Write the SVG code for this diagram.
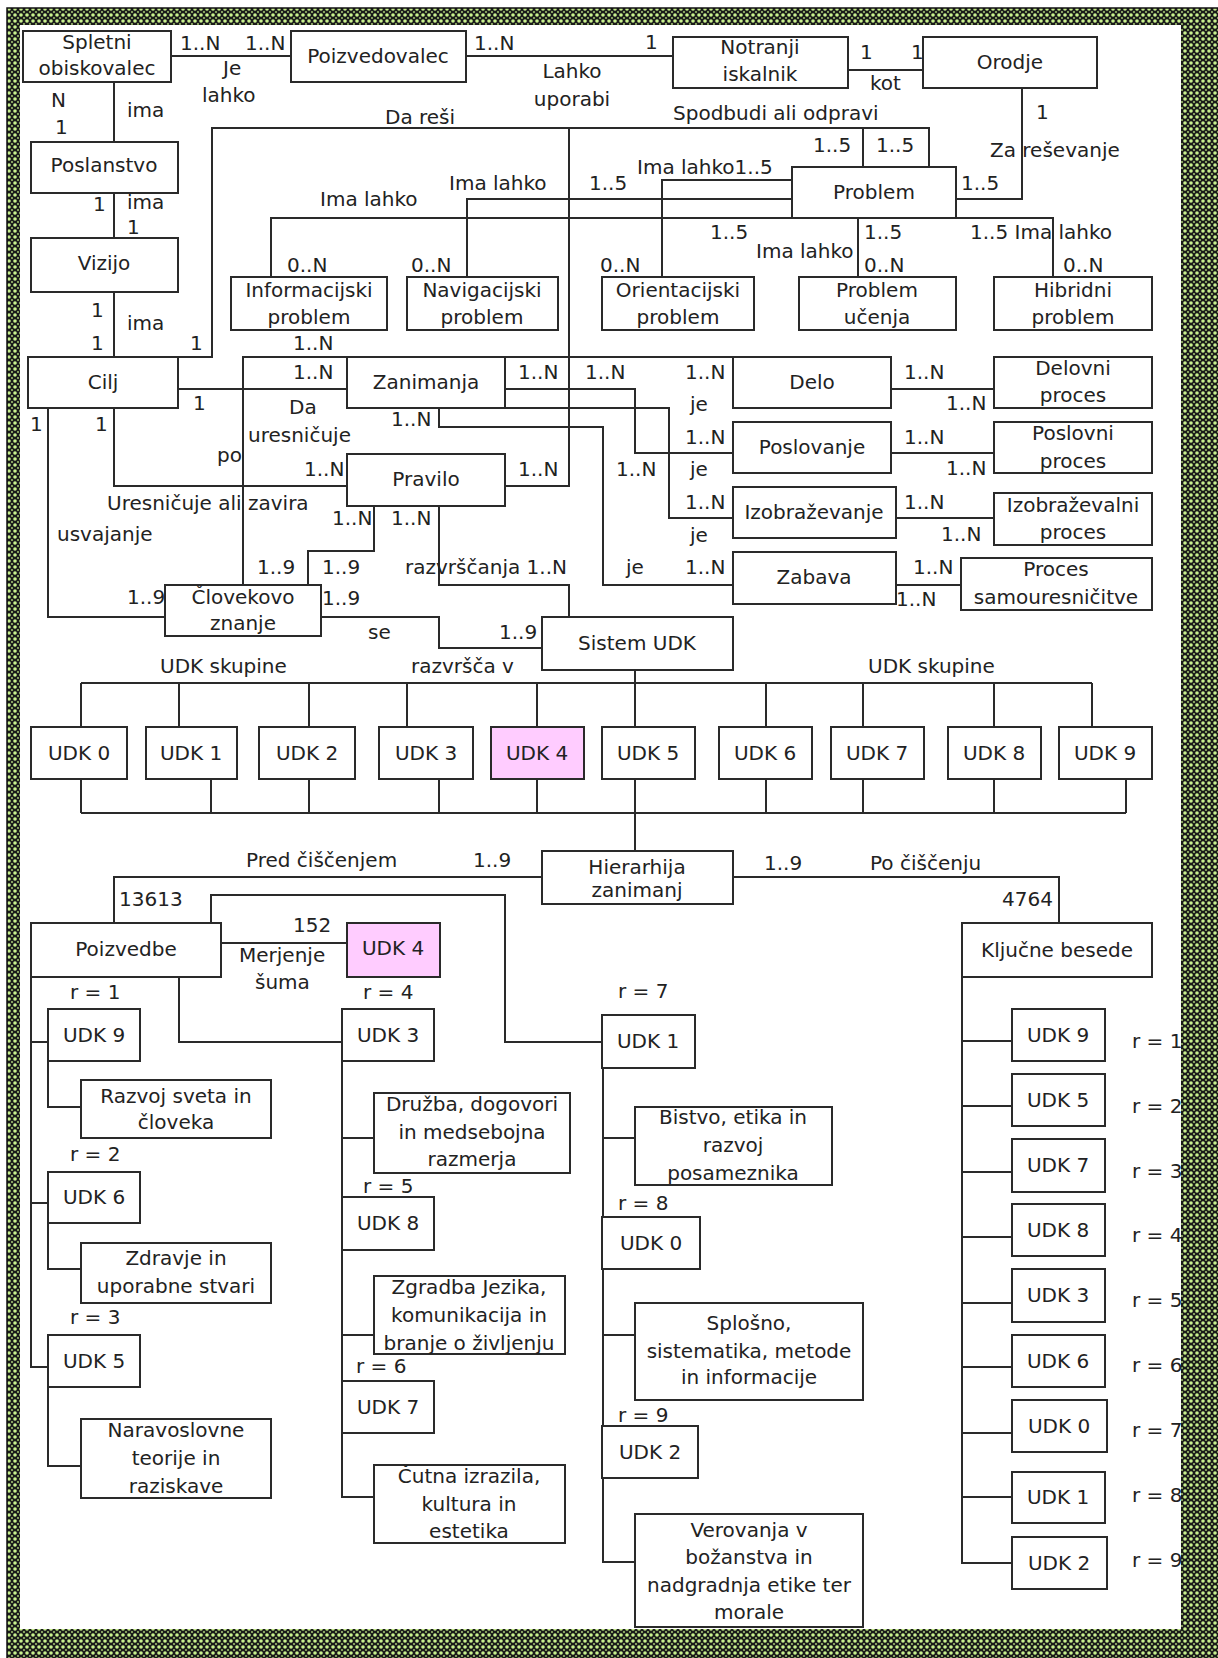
<svg xmlns="http://www.w3.org/2000/svg" width="1218" height="1658" viewBox="0 0 1218 1658">
<defs>
<pattern id="tex" width="6" height="6" patternUnits="userSpaceOnUse">
<rect width="6" height="6" fill="#1a1a1a"/>
<circle cx="3" cy="3" r="1.8" fill="#c8f08e"/>
<circle cx="0" cy="0" r="0.9" fill="#b8e07e"/>
<circle cx="6" cy="6" r="0.9" fill="#b8e07e"/>
<circle cx="6" cy="0" r="0.9" fill="#b8e07e"/>
<circle cx="0" cy="6" r="0.9" fill="#b8e07e"/>
</pattern>
<style>
.box{fill:#fff;stroke:#2a2a2a;stroke-width:2}
.pink{fill:#ffccff}
.ln{fill:none;stroke:#2a2a2a;stroke-width:2}
text{font-family:"DejaVu Sans","Liberation Sans",sans-serif;font-size:20px;fill:#222}
.c{text-anchor:middle}
</style>
</defs>
<rect width="1218" height="1658" fill="#fff"/>
<path d="M7,8 H1218 V1658 H7 Z M20,25 V1629 H1181 V25 Z" fill="url(#tex)" fill-rule="evenodd"/>
<path d="M7,1658 V8 H1218" fill="none" stroke="#111" stroke-width="1.5"/>

<g id="connectors" class="ln">
<path d="M171,56 H291"/>
<path d="M466,56 H673"/>
<path d="M848,70 H923"/>
<path d="M114,82 V142"/>
<path d="M114,193 V238"/>
<path d="M114,292 V357"/>
<path d="M178,357 H212 V128 H929 V167"/>
<path d="M1022,88 V199 H956"/>
<path d="M505,486 H569 V128 H863 V167"/>
<path d="M792,218 H271 V277"/>
<path d="M792,199 H467 V277"/>
<path d="M792,180 H662 V277"/>
<path d="M858,218 V277"/>
<path d="M956,218 H1053 V277"/>
<path d="M178,389 H347"/>
<path d="M243,585 V357 H347"/>
<path d="M114,408 V486 H347"/>
<path d="M48,408 V617 H165"/>
<path d="M374,506 V551 H308 V585"/>
<path d="M439,506 V585 H569 V617"/>
<path d="M321,617 H439 V648 H542"/>
<path d="M505,357 H733"/>
<path d="M505,389 H635 V453 H733"/>
<path d="M505,408 H669 V518 H733"/>
<path d="M439,408 V427 H603 V585 H733"/>
<path d="M891,389 H994"/>
<path d="M891,453 H994"/>
<path d="M896,518 H994"/>
<path d="M896,585 H961"/>
<path d="M635,670 V727"/>
<path d="M81,683 H1092"/>
<path d="M81,683 V727 M179,683 V727 M309,683 V727 M407,683 V727 M537,683 V727 M766,683 V727 M863,683 V727 M994,683 V727 M1092,683 V727"/>
<path d="M81,813 H1126"/>
<path d="M81,779 V813 M211,779 V813 M309,779 V813 M439,779 V813 M537,779 V813 M766,779 V813 M863,779 V813 M994,779 V813 M1126,779 V813"/>
<path d="M635,779 V851"/>
<path d="M542,877 H114 V923"/>
<path d="M733,877 H1059 V923"/>
<path d="M221,943 H347"/>
<path d="M211,923 V895 H505 V1042 H603"/>
<path d="M179,977 V1042 H342"/>
<path d="M31,977 V1367 H48 M31,1042 H48 M31,1203 H48"/>
<path d="M48,1061 V1107 H81"/>
<path d="M48,1223 V1269 H81"/>
<path d="M48,1387 V1466 H81"/>
<path d="M342,1061 V1497 H374 M342,1138 H374 M342,1335 H374"/>
<path d="M603,1068 V1562 H635 M603,1138 H635 M603,1335 H635"/>
<path d="M962,977 V1563 H1012 M962,1041 H1012 M962,1106 H1012 M962,1172 H1012 M962,1237 H1012 M962,1303 H1012 M962,1367 H1012 M962,1433 H1012 M962,1497 H1012"/>
</g>

<g id="n-spletni"><rect class="box" x="23" y="31" width="148" height="51"/><text class="c" x="97" y="49">Spletni</text><text class="c" x="97" y="75">obiskovalec</text></g>
<g id="n-poizvedovalec"><rect class="box" x="291" y="31" width="175" height="51"/><text class="c" x="378" y="63">Poizvedovalec</text></g>
<g id="n-notranji"><rect class="box" x="673" y="37" width="175" height="51"/><text class="c" x="760" y="54">Notranji</text><text class="c" x="760" y="81">iskalnik</text></g>
<g id="n-orodje"><rect class="box" x="923" y="37" width="174" height="51"/><text class="c" x="1010" y="69">Orodje</text></g>
<g id="n-poslanstvo"><rect class="box" x="31" y="142" width="147" height="51"/><text class="c" x="104" y="172">Poslanstvo</text></g>
<g id="n-vizijo"><rect class="box" x="31" y="238" width="147" height="54"/><text class="c" x="104" y="270">Vizijo</text></g>
<g id="n-problem"><rect class="box" x="792" y="167" width="164" height="51"/><text class="c" x="874" y="199">Problem</text></g>
<g id="n-informacijski"><rect class="box" x="231" y="277" width="156" height="53"/><text class="c" x="309" y="297">Informacijski</text><text class="c" x="309" y="324">problem</text></g>
<g id="n-navigacijski"><rect class="box" x="407" y="277" width="151" height="53"/><text class="c" x="482" y="297">Navigacijski</text><text class="c" x="482" y="324">problem</text></g>
<g id="n-orientacijski"><rect class="box" x="602" y="277" width="152" height="53"/><text class="c" x="678" y="297">Orientacijski</text><text class="c" x="678" y="324">problem</text></g>
<g id="n-ucenja"><rect class="box" x="799" y="277" width="157" height="53"/><text class="c" x="877" y="297">Problem</text><text class="c" x="877" y="324">učenja</text></g>
<g id="n-hibridni"><rect class="box" x="994" y="277" width="158" height="53"/><text class="c" x="1073" y="297">Hibridni</text><text class="c" x="1073" y="324">problem</text></g>
<g id="n-cilj"><rect class="box" x="28" y="357" width="150" height="51"/><text class="c" x="103" y="389">Cilj</text></g>
<g id="n-zanimanja"><rect class="box" x="347" y="357" width="158" height="51"/><text class="c" x="426" y="389">Zanimanja</text></g>
<g id="n-pravilo"><rect class="box" x="347" y="454" width="158" height="52"/><text class="c" x="426" y="486">Pravilo</text></g>
<g id="n-clovekovo"><rect class="box" x="165" y="585" width="156" height="51"/><text class="c" x="243" y="604">Človekovo</text><text class="c" x="243" y="630">znanje</text></g>
<g id="n-delo"><rect class="box" x="733" y="357" width="158" height="51"/><text class="c" x="812" y="389">Delo</text></g>
<g id="n-poslovanje"><rect class="box" x="733" y="422" width="158" height="51"/><text class="c" x="812" y="454">Poslovanje</text></g>
<g id="n-izobrazevanje"><rect class="box" x="733" y="487" width="163" height="51"/><text class="c" x="814" y="519">Izobraževanje</text></g>
<g id="n-zabava"><rect class="box" x="733" y="552" width="163" height="52"/><text class="c" x="814" y="584">Zabava</text></g>
<g id="n-delovni"><rect class="box" x="994" y="357" width="158" height="51"/><text class="c" x="1073" y="375">Delovni</text><text class="c" x="1073" y="402">proces</text></g>
<g id="n-poslovni"><rect class="box" x="994" y="422" width="158" height="51"/><text class="c" x="1073" y="440">Poslovni</text><text class="c" x="1073" y="468">proces</text></g>
<g id="n-izobrazevalni"><rect class="box" x="994" y="493" width="158" height="52"/><text class="c" x="1073" y="512">Izobraževalni</text><text class="c" x="1073" y="539">proces</text></g>
<g id="n-samouresnicitve"><rect class="box" x="961" y="558" width="191" height="52"/><text class="c" x="1056" y="576">Proces</text><text class="c" x="1056" y="604">samouresničitve</text></g>
<g id="n-sistem"><rect class="box" x="542" y="617" width="191" height="53"/><text class="c" x="637" y="650">Sistem UDK</text></g>

<g id="n-udk0"><rect class="box" x="31" y="727" width="96" height="52"/><text class="c" x="79" y="760">UDK 0</text></g>
<g id="n-udk1"><rect class="box" x="146" y="727" width="91" height="52"/><text class="c" x="191" y="760">UDK 1</text></g>
<g id="n-udk2"><rect class="box" x="259" y="727" width="96" height="52"/><text class="c" x="307" y="760">UDK 2</text></g>
<g id="n-udk3"><rect class="box" x="379" y="727" width="94" height="52"/><text class="c" x="426" y="760">UDK 3</text></g>
<g id="n-udk4"><rect class="box pink" x="491" y="727" width="93" height="52"/><text class="c" x="537" y="760">UDK 4</text></g>
<g id="n-udk5"><rect class="box" x="602" y="727" width="93" height="52"/><text class="c" x="648" y="760">UDK 5</text></g>
<g id="n-udk6"><rect class="box" x="719" y="727" width="93" height="52"/><text class="c" x="765" y="760">UDK 6</text></g>
<g id="n-udk7"><rect class="box" x="831" y="727" width="93" height="52"/><text class="c" x="877" y="760">UDK 7</text></g>
<g id="n-udk8"><rect class="box" x="948" y="727" width="93" height="52"/><text class="c" x="994" y="760">UDK 8</text></g>
<g id="n-udk9"><rect class="box" x="1059" y="727" width="93" height="52"/><text class="c" x="1105" y="760">UDK 9</text></g>

<g id="n-hierarhija"><rect class="box" x="542" y="851" width="191" height="53"/><text class="c" x="637" y="874">Hierarhija</text><text class="c" x="637" y="897">zanimanj</text></g>
<g id="n-poizvedbe"><rect class="box" x="31" y="923" width="190" height="54"/><text class="c" x="126" y="956">Poizvedbe</text></g>
<g id="n-udk4b"><rect class="box pink" x="347" y="923" width="93" height="54"/><text class="c" x="393" y="955">UDK 4</text></g>
<g id="n-kljucne"><rect class="box" x="962" y="923" width="190" height="54"/><text class="c" x="1057" y="957">Ključne besede</text></g>

<g id="n-p-udk9"><rect class="box" x="48" y="1009" width="92" height="52"/><text class="c" x="94" y="1042">UDK 9</text></g>
<g id="n-razvoj"><rect class="box" x="81" y="1080" width="190" height="58"/><text class="c" x="176" y="1103">Razvoj sveta in</text><text class="c" x="176" y="1129">človeka</text></g>
<g id="n-p-udk6"><rect class="box" x="48" y="1172" width="92" height="51"/><text class="c" x="94" y="1204">UDK 6</text></g>
<g id="n-zdravje"><rect class="box" x="81" y="1243" width="190" height="60"/><text class="c" x="176" y="1265">Zdravje in</text><text class="c" x="176" y="1293">uporabne stvari</text></g>
<g id="n-p-udk5"><rect class="box" x="48" y="1335" width="92" height="52"/><text class="c" x="94" y="1368">UDK 5</text></g>
<g id="n-naravoslovne"><rect class="box" x="81" y="1419" width="190" height="79"/><text class="c" x="176" y="1437">Naravoslovne</text><text class="c" x="176" y="1465">teorije in</text><text class="c" x="176" y="1493">raziskave</text></g>

<g id="n-m-udk3"><rect class="box" x="342" y="1009" width="92" height="52"/><text class="c" x="388" y="1042">UDK 3</text></g>
<g id="n-druzba"><rect class="box" x="374" y="1093" width="196" height="80"/><text class="c" x="472" y="1111">Družba, dogovori</text><text class="c" x="472" y="1139">in medsebojna</text><text class="c" x="472" y="1166">razmerja</text></g>
<g id="n-m-udk8"><rect class="box" x="342" y="1197" width="92" height="53"/><text class="c" x="388" y="1230">UDK 8</text></g>
<g id="n-zgradba"><rect class="box" x="374" y="1276" width="191" height="78"/><text class="c" x="469" y="1294">Zgradba Jezika,</text><text class="c" x="469" y="1322">komunikacija in</text><text class="c" x="469" y="1350">branje o življenju</text></g>
<g id="n-m-udk7"><rect class="box" x="342" y="1381" width="92" height="52"/><text class="c" x="388" y="1414">UDK 7</text></g>
<g id="n-cutna"><rect class="box" x="374" y="1465" width="191" height="78"/><text class="c" x="469" y="1483">Čutna izrazila,</text><text class="c" x="469" y="1511">kultura in</text><text class="c" x="469" y="1538">estetika</text></g>

<g id="n-r-udk1"><rect class="box" x="602" y="1015" width="93" height="53"/><text class="c" x="648" y="1048">UDK 1</text></g>
<g id="n-bistvo"><rect class="box" x="635" y="1107" width="197" height="78"/><text class="c" x="733" y="1124">Bistvo, etika in</text><text class="c" x="733" y="1152">razvoj</text><text class="c" x="733" y="1180">posameznika</text></g>
<g id="n-r-udk0"><rect class="box" x="602" y="1217" width="98" height="52"/><text class="c" x="651" y="1250">UDK 0</text></g>
<g id="n-splosno"><rect class="box" x="635" y="1303" width="228" height="97"/><text class="c" x="749" y="1330">Splošno,</text><text class="c" x="749" y="1358">sistematika, metode</text><text class="c" x="749" y="1384">in informacije</text></g>
<g id="n-r-udk2"><rect class="box" x="602" y="1426" width="96" height="52"/><text class="c" x="650" y="1459">UDK 2</text></g>
<g id="n-verovanja"><rect class="box" x="635" y="1514" width="228" height="113"/><text class="c" x="749" y="1537">Verovanja v</text><text class="c" x="749" y="1564">božanstva in</text><text class="c" x="749" y="1592">nadgradnja etike ter</text><text class="c" x="749" y="1619">morale</text></g>

<g id="n-k-udk9"><rect class="box" x="1012" y="1009" width="93" height="52"/><text class="c" x="1058" y="1042">UDK 9</text></g>
<g id="n-k-udk5"><rect class="box" x="1012" y="1074" width="93" height="52"/><text class="c" x="1058" y="1107">UDK 5</text></g>
<g id="n-k-udk7"><rect class="box" x="1012" y="1139" width="93" height="53"/><text class="c" x="1058" y="1172">UDK 7</text></g>
<g id="n-k-udk8"><rect class="box" x="1012" y="1204" width="93" height="52"/><text class="c" x="1058" y="1237">UDK 8</text></g>
<g id="n-k-udk3"><rect class="box" x="1012" y="1269" width="93" height="53"/><text class="c" x="1058" y="1302">UDK 3</text></g>
<g id="n-k-udk6"><rect class="box" x="1012" y="1335" width="93" height="52"/><text class="c" x="1058" y="1368">UDK 6</text></g>
<g id="n-k-udk0"><rect class="box" x="1012" y="1400" width="95" height="52"/><text class="c" x="1059" y="1433">UDK 0</text></g>
<g id="n-k-udk1"><rect class="box" x="1012" y="1472" width="93" height="51"/><text class="c" x="1058" y="1504">UDK 1</text></g>
<g id="n-k-udk2"><rect class="box" x="1012" y="1537" width="95" height="52"/><text class="c" x="1059" y="1570">UDK 2</text></g>

<g id="labels">
<text x="180" y="50">1..N</text>
<text x="245" y="50">1..N</text>
<text x="223" y="75">Je</text>
<text x="202" y="102">lahko</text>
<text x="474" y="50">1..N</text>
<text x="645" y="49">1</text>
<text class="c" x="572" y="78">Lahko</text>
<text class="c" x="572" y="106">uporabi</text>
<text x="860" y="59">1</text>
<text x="911" y="59">1</text>
<text x="870" y="90">kot</text>
<text x="51" y="107">N</text>
<text x="55" y="134">1</text>
<text x="127" y="117">ima</text>
<text x="93" y="211">1</text>
<text x="127" y="209">ima</text>
<text x="127" y="234">1</text>
<text x="91" y="317">1</text>
<text x="127" y="330">ima</text>
<text x="91" y="350">1</text>
<text x="190" y="350">1</text>
<text x="385" y="124">Da reši</text>
<text x="673" y="120">Spodbudi ali odpravi</text>
<text x="813" y="152">1..5</text>
<text x="876" y="152">1..5</text>
<text x="1036" y="119">1</text>
<text x="990" y="157">Za reševanje</text>
<text x="961" y="190">1..5</text>
<text x="637" y="174">Ima lahko1..5</text>
<text x="320" y="206">Ima lahko</text>
<text x="449" y="190">Ima lahko</text>
<text x="589" y="190">1..5</text>
<text x="287" y="272">0..N</text>
<text x="411" y="272">0..N</text>
<text x="600" y="272">0..N</text>
<text x="864" y="272">0..N</text>
<text x="1063" y="272">0..N</text>
<text x="710" y="239">1..5</text>
<text x="756" y="258">Ima lahko</text>
<text x="864" y="239">1..5</text>
<text x="970" y="239">1..5 Ima lahko</text>
<text x="293" y="350">1..N</text>
<text x="293" y="379">1..N</text>
<text x="193" y="410">1</text>
<text x="289" y="414">Da</text>
<text x="248" y="442">uresničuje</text>
<text x="217" y="462">po</text>
<text x="391" y="426">1..N</text>
<text x="518" y="379">1..N</text>
<text x="585" y="379">1..N</text>
<text x="685" y="379">1..N</text>
<text x="690" y="411">je</text>
<text x="685" y="444">1..N</text>
<text x="616" y="476">1..N</text>
<text x="690" y="476">je</text>
<text x="685" y="509">1..N</text>
<text x="690" y="542">je</text>
<text x="626" y="574">je</text>
<text x="685" y="574">1..N</text>
<text x="518" y="476">1..N</text>
<text x="30" y="431">1</text>
<text x="95" y="431">1</text>
<text x="304" y="476">1..N</text>
<text x="107" y="510">Uresničuje ali zavira</text>
<text x="57" y="541">usvajanje</text>
<text x="332" y="525">1..N</text>
<text x="391" y="525">1..N</text>
<text x="257" y="574">1..9</text>
<text x="322" y="574">1..9</text>
<text x="405" y="574">razvrščanja 1..N</text>
<text x="127" y="604">1..9</text>
<text x="322" y="605">1..9</text>
<text x="368" y="639">se</text>
<text x="499" y="639">1..9</text>
<text x="904" y="379">1..N</text>
<text x="946" y="410">1..N</text>
<text x="904" y="444">1..N</text>
<text x="946" y="475">1..N</text>
<text x="904" y="509">1..N</text>
<text x="941" y="541">1..N</text>
<text x="913" y="574">1..N</text>
<text x="896" y="606">1..N</text>
<text x="160" y="673">UDK skupine</text>
<text x="411" y="673">razvršča v</text>
<text x="868" y="673">UDK skupine</text>
<text x="246" y="867">Pred čiščenjem</text>
<text x="473" y="867">1..9</text>
<text x="764" y="870">1..9</text>
<text x="870" y="870">Po čiščenju</text>
<text x="119" y="906">13613</text>
<text x="1002" y="906">4764</text>
<text x="293" y="932">152</text>
<text x="239" y="962">Merjenje</text>
<text x="255" y="989">šuma</text>
<text x="70" y="999">r = 1</text>
<text x="363" y="999">r = 4</text>
<text x="618" y="998">r = 7</text>
<text x="70" y="1161">r = 2</text>
<text x="363" y="1193">r = 5</text>
<text x="618" y="1210">r = 8</text>
<text x="70" y="1324">r = 3</text>
<text x="356" y="1373">r = 6</text>
<text x="618" y="1422">r = 9</text>
<text x="1132" y="1048">r = 1</text>
<text x="1132" y="1113">r = 2</text>
<text x="1132" y="1178">r = 3</text>
<text x="1132" y="1242">r = 4</text>
<text x="1132" y="1307">r = 5</text>
<text x="1132" y="1372">r = 6</text>
<text x="1132" y="1437">r = 7</text>
<text x="1132" y="1502">r = 8</text>
<text x="1132" y="1567">r = 9</text>
</g>
</svg>
